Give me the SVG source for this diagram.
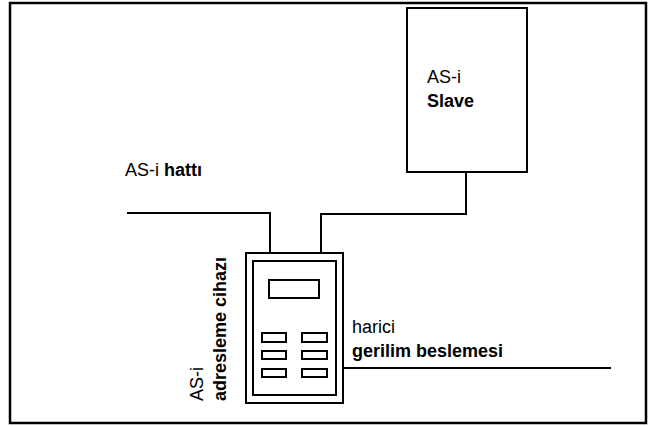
<svg xmlns="http://www.w3.org/2000/svg" width="648" height="426" viewBox="0 0 648 426">
<style>
.ln{fill:none;stroke:#000;stroke-width:2}
.bx{fill:#fff;stroke:#000;stroke-width:2}
.t{font-family:"Liberation Sans",Arial,sans-serif;font-size:18px;fill:#000}
.b{font-weight:bold}
</style>
<rect x="0" y="0" width="648" height="426" fill="#fff"/>
<rect id="frame" x="10" y="3" width="636" height="420" fill="none" stroke="#000" stroke-width="2.5"/>
<g id="connectors" class="ln">
<polyline points="127,213 270,213 270,253"/>
<polyline points="321,253 321,214 466,214 466,172"/>
<polyline points="343,368 611,368"/>
</g>
<g id="slave">
<rect class="bx" x="407" y="8" width="120" height="164"/>
<text class="t" x="427" y="83">AS-i</text>
<text class="t b" x="427" y="107">Slave</text>
</g>
<g id="line-label">
<text class="t" x="125" y="176">AS-i <tspan class="b">hattı</tspan></text>
</g>
<g id="device">
<rect class="bx" x="246" y="253" width="97" height="150"/>
<rect class="bx" x="253" y="261" width="83" height="134"/>
<rect class="bx" x="269" y="280" width="50" height="18"/>
<rect class="bx" x="262" y="333" width="24" height="9"/>
<rect class="bx" x="302" y="333" width="25" height="9"/>
<rect class="bx" x="262" y="351" width="24" height="8"/>
<rect class="bx" x="302" y="351" width="25" height="8"/>
<rect class="bx" x="262" y="369" width="24" height="8"/>
<rect class="bx" x="302" y="369" width="25" height="8"/>
<text class="t" transform="translate(203,401) rotate(-90)">AS-i</text>
<text class="t b" transform="translate(226,401) rotate(-90)">adresleme cihazı</text>
</g>
<g id="power-label">
<text class="t" x="352" y="333">harici</text>
<text class="t b" x="352" y="357">gerilim beslemesi</text>
</g>
</svg>
